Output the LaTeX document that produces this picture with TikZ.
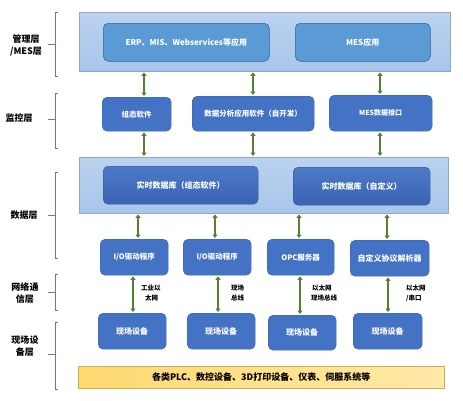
\documentclass[tikz,border=0pt]{standalone}
\usepackage{fontspec}
\setmainfont{Noto Sans CJK SC}
\usetikzlibrary{arrows.meta}
\definecolor{band}{HTML}{A9C5EB}
\definecolor{bandtop}{HTML}{BBD2F0}
\definecolor{lbox}{HTML}{5B9BD5}
\definecolor{dbox}{HTML}{4472C4}
\definecolor{dboxb}{HTML}{3A64B3}
\definecolor{arr}{HTML}{548235}
\definecolor{brk}{HTML}{6A7A90}
\definecolor{ylw}{HTML}{FFD970}
\definecolor{ylwl}{HTML}{FFE9A8}
\tikzset{
  bandbox/.style={draw=band!85!black, line width=0.4pt, top color=bandtop, bottom color=band, inner sep=0pt, anchor=north west},
  lightbox/.style={draw=dbox!80!black, line width=0.5pt, fill=lbox, rounded corners=5pt, anchor=north west},
  darkbox/.style={draw=dbox!85!black, line width=0.4pt, fill=dbox, rounded corners=5pt, anchor=north west},
  gradbox/.style={draw=dboxb!80!black, line width=0.4pt, top color=dbox!95!white, bottom color=dboxb, rounded corners=5pt, anchor=north west},
  boxtxt/.style={text=white, font=\bfseries\fontsize{#1}{9}\selectfont},
  boxtxt/.default=8,
  link/.style={draw=arr, line width=2pt, shorten <=1pt, shorten >=1pt, {Triangle[length=3.5pt,width=5pt]}-{Triangle[length=3.5pt,width=5pt]}},
  brack/.style={draw=brk, line width=0.7pt},
  layer/.style={font=\bfseries\fontsize{9}{12}\selectfont, align=center, text=black},
  netlbl/.style={font=\bfseries\fontsize{6.5}{10}\selectfont, align=left, anchor=west, text=black, inner sep=0pt}
}
\begin{document}
\begin{tikzpicture}[x=1pt,y=-1pt]
\useasboundingbox (0,0) rectangle (463,400);
% bands
\node[bandbox, minimum width=371pt, minimum height=59pt] (mgmt) at (79,12) {};
\node[bandbox, minimum width=369pt, minimum height=56pt] (data) at (79,157) {};
\node[draw=ylw!80!black, line width=0.3pt, left color=ylw, right color=ylwl, minimum width=366pt, minimum height=22pt, anchor=north west, inner sep=0pt] (field) at (78,366) {};
\node[font=\bfseries\fontsize{9}{10}\selectfont] (fieldtxt) at (field.center) {各类PLC、数控设备、3D打印设备、仪表、伺服系统等};
% management boxes
\node[lightbox, minimum width=166pt, minimum height=38pt] (erp) at (103,23) {};
\node[boxtxt] (erpt) at (erp.center) {ERP、MIS、Webservices等应用};
\node[lightbox, minimum width=135pt, minimum height=38pt] (mesapp) at (295,23) {};
\node[boxtxt] (mesappt) at (mesapp.center) {MES应用};
% monitor boxes
\node[darkbox, minimum width=69pt, minimum height=34pt] (zt) at (102,97) {};
\node[boxtxt=7.5] (ztt) at (zt.center) {组态软件};
\node[darkbox, minimum width=122pt, minimum height=35pt] (sjfx) at (192,96) {};
\node[boxtxt=7.5] (sjfxt) at (sjfx.center) {数据分析应用软件（自开发）};
\node[darkbox, minimum width=103pt, minimum height=36pt] (mesif) at (329,95) {};
\node[boxtxt=7] (mesift) at (mesif.center) {MES数据接口};
% data boxes
\node[gradbox, minimum width=155pt, minimum height=38pt] (db1) at (103,166) {};
\node[boxtxt] (db1t) at (db1.center) {实时数据库（组态软件）};
\node[gradbox, minimum width=137pt, minimum height=38pt] (db2) at (293,167) {};
\node[boxtxt] (db2t) at (db2.center) {实时数据库（自定义）};
% driver boxes
\node[darkbox, minimum width=68pt, minimum height=36pt] (io1) at (100,239) {};
\node[boxtxt=7.5] (io1t) at (io1.center) {I/O驱动程序};
\node[darkbox, minimum width=68pt, minimum height=36pt] (io2) at (183,239) {};
\node[boxtxt=7.5] (io2t) at (io2.center) {I/O驱动程序};
\node[darkbox, minimum width=67pt, minimum height=36pt] (opc) at (267,239) {};
\node[boxtxt=7.5] (opct) at (opc.center) {OPC服务器};
\node[darkbox, minimum width=79pt, minimum height=36pt] (proto) at (350,240) {};
\node[boxtxt] (protot) at (proto.center) {自定义协议解析器};
% field devices
\node[darkbox, minimum width=68pt, minimum height=36pt] (fd1) at (98,313) {};
\node[boxtxt] (fd1t) at (fd1.center) {现场设备};
\node[darkbox, minimum width=68pt, minimum height=36pt] (fd2) at (187,313) {};
\node[boxtxt] (fd2t) at (fd2.center) {现场设备};
\node[darkbox, minimum width=68pt, minimum height=35pt] (fd3) at (268,315) {};
\node[boxtxt] (fd3t) at (fd3.center) {现场设备};
\node[darkbox, minimum width=69pt, minimum height=36pt] (fd4) at (353,313) {};
\node[boxtxt] (fd4t) at (fd4.center) {现场设备};
% arrows mgmt-monitor
\draw[link] (mgmt.south -| 144,0) -- (zt.north -| 144,0);
\draw[link] (mgmt.south -| 253,0) -- (sjfx.north -| 253,0);
\draw[link] (mgmt.south -| 380,0) -- (mesif.north -| 380,0);
% monitor-data
\draw[link] (zt.south -| 144,0) -- (data.north -| 144,0);
\draw[link] (sjfx.south -| 253,0) -- (data.north -| 253,0);
\draw[link] (mesif.south -| 380,0) -- (data.north -| 380,0);
% data-driver
\draw[link] (data.south -| 138,0) -- (io1.north -| 138,0);
\draw[link] (data.south -| 215,0) -- (io2.north -| 215,0);
\draw[link] (data.south -| 299,0) -- (opc.north -| 299,0);
\draw[link] (data.south -| 387,0) -- (proto.north -| 387,0);
% driver-field
\draw[link] (io1.south -| 133,0) -- (fd1.north -| 133,0);
\draw[link] (io2.south -| 218,0) -- (fd2.north -| 218,0);
\draw[link] (opc.south -| 300,0) -- (fd3.north -| 300,0);
\draw[link] (proto.south -| 388,0) -- (fd4.north -| 388,0);
% net labels
\node[netlbl] (n1) at (141,293) {工业以\\\hspace*{4pt}太网};
\node[netlbl] (n2) at (231,293) {现场\\总线};
\node[netlbl] (n3) at (311,293) {\hspace*{1pt}以太网\\现场总线};
\node[netlbl] (n4) at (406,293) {以太网\\/串口};
% brackets
\draw[brack] (58,12) -- (55,12) -- (55,76) -- (58,76) (55,44) -- (48,44);
\draw[brack] (58,93) -- (55,93) -- (55,148) -- (58,148) (55,119) -- (48,119);
\draw[brack] (58,172) -- (55,172) -- (55,258) -- (58,258) (55,215) -- (48,215);
\draw[brack] (58,274) -- (55,274) -- (55,310) -- (58,310) (55,292) -- (48,292);
\draw[brack] (58,322) -- (55,322) -- (55,389) -- (58,389) (55,354) -- (48,354);
% layer labels
\node[layer] (l1) at (26,45) {管理层\\/MES层};
\node[layer] (l2) at (19,118) {监控层};
\node[layer] (l3) at (24,215) {数据层};
\node[layer] (l4) at (25,293) {网络通\\信层};
\node[layer] (l5) at (25,346) {现场设\\备层};
\end{tikzpicture}
\end{document}
